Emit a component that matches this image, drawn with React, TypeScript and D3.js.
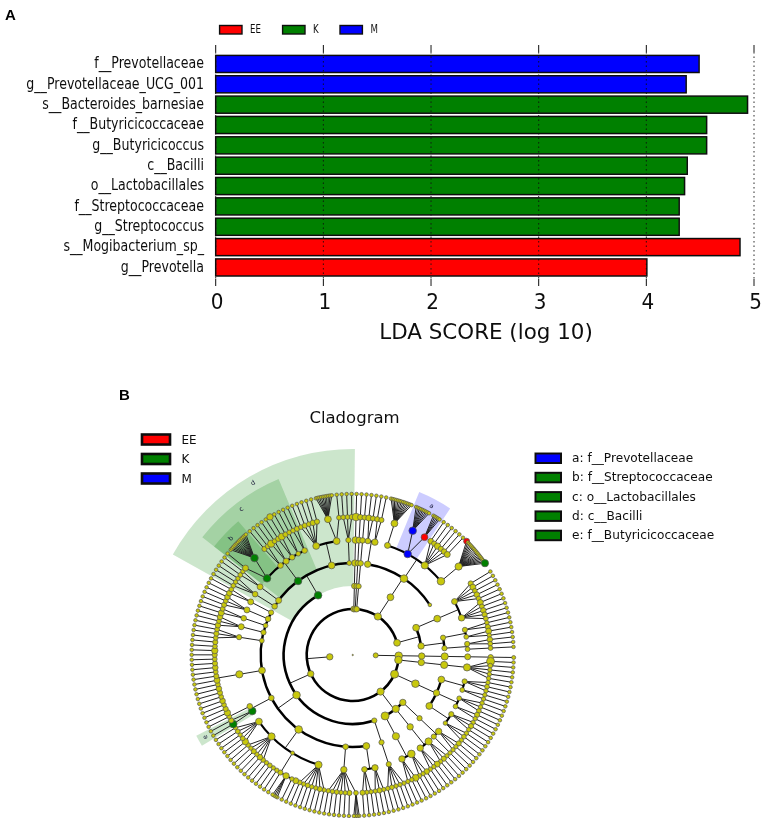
import React from "react";
import * as d3 from "d3";

// ---------- Panel A data ----------
const taxa = ["f__Prevotellaceae","g__Prevotellaceae_UCG_001","s__Bacteroides_barnesiae","f__Butyricicoccaceae","g__Butyricicoccus","c__Bacilli","o__Lactobacillales","f__Streptococcaceae","g__Streptococcus","s__Mogibacterium_sp_","g__Prevotella"];
const ldaScores = [4.49,4.37,4.94,4.56,4.56,4.38,4.355,4.305,4.305,4.87,4.005];
const ldaGroups = ["M","M","K","K","K","K","K","K","K","EE","EE"];
const groups = ["EE","K","M"];
const groupColors = ["#ff0000","#008000","#0000ff"];
const xTicks = [0,1,2,3,4,5];
const cladeKey = [["a: f__Prevotellaceae","M"],["b: f__Streptococcaceae","K"],["c: o__Lactobacillales","K"],["d: c__Bacilli","K"],["e: f__Butyricicoccaceae","K"]];

// ---------- Panel B data: clades, clockwise from the Archaea spoke ----------
type N = { r: number; kids?: N[]; c?: string; w?: string };
const n = (r: number, ...kids: N[]): N => ({ r, kids: kids.length ? kids : undefined });
const S = 1.8;
const g = (r: number, sp = S) => n(r, n(sp));
const fan = (r: number, k: number) => n(r, ...Array.from({ length: k }, () => n(S)));
const fam = (r: number, ...gs: (number | N)[]) => n(r, ...gs.map((x) => (typeof x === "number" ? g(x) : x)));
const mark = (x: N, c: string, w?: string): N => ({ ...x, c, w });

const archaea = n(2.5, n(3.8, n(3.2, n(3.6, n(3, n(2.6, n(2)))))));
const p94 = n(3.8, n(3.2, n(3.6, fam(3.6, 4, 2.4, 2.2, 2.2, 2.2))));
const p116 = n(4, n(3.8,
  n(3.4, fam(2.6, 2.2, 2.4, 2.2), fam(2.4, 2.2, 2.2)),
  n(3.2, fam(2.4, 2.2, 2.2, 2.4), fam(2.4, 2.6, 2.2)),
  n(3.4, fam(2.6, 2.2, 2.6, 2.2), fam(2.2, 2.2, 2.4, 2.2))));
const p140 = n(3.6,
  n(3.2, n(2.6, fam(3.2, 2.6, 2.2, 2.2), fam(2.6, 2.2))),
  n(3.6, n(3.2, fam(3.6, 2.2, 2.6, 2.2), fam(3.2, 3, 2.2, 2.2))),
  n(4, n(3.6, fam(3.8, 2.8, 2.2, 2.4), fam(3.2, 3.4, 2.2, 2.2))));
const p0 = n(3, n(2.8, n(3.2, fam(3.4, 3.8))));
const p2 = n(2.8, n(2.6, n(2.6, fam(3, 2.8))));
const p4 = n(2.8, n(2.6, n(2.8, fam(2.8, 2.6))));

const firmicutes = n(3.2,
  n(2.6, n(2.6, fam(2.6, 2.2, 2.2, 2.2, 2.4, 2.2))),
  n(3.8,
    n(3.4, fam(3.2, 2.2, 2.6, 2.2), fam(2.8, 2.2, 2.2, 2.6)),
    n(2.8, fam(3.2, fan(2.4, 4), 2.6, 2.2, 2.2, 2.4, 2.2, 2.2)),
    n(3.8,
      fam(3.6, 2.2, 2.6, 2.2, 2.2, 2.4, 2.2, 2.4),
      fam(2, 3, 2.2, fan(3.2, 4), 2.6, 2.2, 2.2, 2.4, 2.2),
      fam(3.6, 2.4, 2.8, 2.2, 2.6, 2.2, 2.4),
      fam(3.4, 3.2, 2.4, 2.2, 2.4, 2.2)),
    n(2.8,
      mark(fam(3.8, mark(g(3.8), "#008000"), 2.6), "#008000", "e"),
      fam(2.8, 2.4)),
    n(3.4, fam(3.6, 3.2, 2.6, 2.4, 2.8, 2.4, 2.6, 2.8, 2.4, 3, 2.6, 2.4, 2.8, 2.6, 2.4, 2.6, 3.2, 2.4, 2.6)),
    n(2.4, fam(2.6, 2.4, 2.6, 2.4)),
    n(2.6, fam(3, 2.8, 2.4, 2.8)),
    n(2.4, fam(2.8, 3, 2.4)),
    n(2.8, fam(3, 2.6, 2.4, 2.8)),
    n(2.6, fam(3, 2.8, 2.4))),
  mark(n(3.8,
    n(2.8, fam(2.8, 2.4, 2.2, 2.2)),
    n(3, fam(3, 2.4, 2.2)),
    mark(n(3.8,
      mark(fam(3.8, 3, mark(fan(3.8, 13), "#008000")), "#008000", "b"),
      fam(2.8, 2.6, 2.4),
      fam(3, 3.6, 2.4),
      fam(2.8, 2.6, n(3.4, n(3.2))),
      fam(2.4, 2.6, 2.4),
      fam(2.8, 2.4, 2.6)), "#008000", "c"),
    n(3.4,
      fam(3.4, 2.4, 2.6, 2.4, 2.8, 2.6),
      fam(3.4, fan(3.4, 10), 2.4)),
    n(2.4, fam(2.6, 2.4, 2.4, 2.6))), "#008000", "d"));

const p34 = n(3.6, n(3.4,
  n(3.2, fam(2.8, 3, 2.6), fam(3.2, 2.6, 2.6)),
  n(3.8,
    fam(3, fan(3.4, 13)),
    mark(fam(3.8, mark(fan(3.8, 9), "#0000ff"), mark(fan(3.4, 5), "#ff0000")), "#0000ff", "a"),
    fam(3.6, 2.8, 2.6, 3.2, 2.6, 2.8, 3),
    fam(3.8, n(3.6, mark(n(3), "#ff0000"), ...Array.from({ length: 15 }, () => n(S)), mark(n(3.6), "#008000")))),
  n(1.8)));
const p71 = n(3.4,
  n(3.4, n(3.4,
    fam(3, 2.6, 3, 2.4, 2.8, 2.4),
    fam(3.2, 3, 2.4, 2.8, 2.6, 2.4))),
  n(3.2, n(2.6, fam(2.6, 2.2, 2.6), fam(2.4, 3, 2.2)), n(2.6, fam(2.6, 2.8, 2.4), fam(2.4, 2.4))));

const bacteria = n(3.2, p94, p116, p140, firmicutes, p0, p2, p4, p34, p71);
const lifeTree = n(0.7, archaea, bacteria);

const startAngle = 90;
const sweep = 358;

const ring = d3.scaleLinear().domain([0, 7]).range([0, 161]);
const wedgeOuter: Record<number, number> = { 3: 206, 4: 191, 5: 176 };

function build() {
  const root = d3.hierarchy<N>(lifeTree, (d) => d.kids);
  d3.cluster<N>().size([1, 1]).separation((a, b) => (a.parent === b.parent && a.depth === 7 ? 0.36 : 1))(root);
  root.each((d: any) => { d.th = startAngle + d.x * sweep; });
  root.eachAfter((d: any) => {
    if (d.children) d.th = (d.children[0].th + d.children[d.children.length - 1].th) / 2;
  });
  return root.descendants() as any[];
}

const cx = 352.7, cy = 655;
const RAD = Math.PI / 180;

function Squeezed({ x, y, sx, size, anchor, children, family }: any) {
  return (
    <text transform={`translate(${x},${y}) scale(${sx},1)`} fontSize={size} textAnchor={anchor} fontFamily={family ?? "DejaVu Sans"} fill="#111" dominantBaseline="middle">
      {children}
    </text>
  );
}

export default function App() {
  const x = d3.scaleLinear().domain([0, 5]).range([215.7, 754]);
  const y = d3.scaleBand<string>().domain(taxa).range([55.4, 276]).paddingInner(0.16).paddingOuter(0);
  const color = d3.scaleOrdinal<string, string>().domain(groups).range(groupColors);
  const nodes = build();
  const lineW = [0, 1, 2.6, 2.6, 2.4, 2.1, 1.6];
  const P = (r: number, th: number) => d3.pointRadial(th * RAD, r) as [number, number];
  const arc = d3.arc();
  const wedges = nodes.filter((d) => d.data.w).sort((a, b) => a.depth - b.depth);
  const spans = wedges.map((d) => {
    const ls = d.leaves();
    const a0 = d3.min(ls, (l: any) => l.th) as number;
    const a1 = d3.max(ls, (l: any) => l.th) as number;
    return { d, a0: a0 - 1, a1: a1 + 1 };
  });
  const edges: React.ReactNode[] = [];
  nodes.forEach((d, i) => {
    if (!d.children || d.depth === 0) return;
    const cr = ring(d.depth + 1);
    const first = d.children[0].th, last = d.children[d.children.length - 1].th;
    const arcs = d.depth <= 4 || last - first > 14;
    if (arcs) {
      const [x1, y1] = P(ring(d.depth), d.th);
      const [x2, y2] = P(cr, d.th);
      edges.push(<line key={`r${i}`} x1={x1} y1={y1} x2={x2} y2={y2} stroke="#222" strokeWidth={1} />);
      if (last > first) {
        edges.push(<path key={`a${i}`} d={arc({ innerRadius: cr, outerRadius: cr, startAngle: first * RAD, endAngle: last * RAD } as any) as string} fill="none" stroke="#000" strokeWidth={lineW[d.depth + 1] ?? 1} />);
      }
    } else {
      d.children.forEach((c: any, j: number) => {
        const [x1, y1] = P(ring(d.depth), d.th);
        const [x2, y2] = P(cr, c.th);
        edges.push(<line key={`s${i}-${j}`} x1={x1} y1={y1} x2={x2} y2={y2} stroke="#222" strokeWidth={1} />);
      });
    }
  });
  return (
    <svg width={767} height={824} style={{ position: "absolute", left: 0, top: 0, display: "block" }}>
      <defs>
        <filter id="soft" x="0" y="0" width="100%" height="100%"><feGaussianBlur stdDeviation="0.35" /></filter>
      </defs>
      <rect width={767} height={824} fill="#fff" />
      <g filter="url(#soft)">
      <text x={5} y={20} fontFamily="Liberation Sans" fontWeight="bold" fontSize={15}>A</text>
      <text x={119} y={400} fontFamily="Liberation Sans" fontWeight="bold" fontSize={15}>B</text>

      {groups.map((k, i) => {
        const sx = [219.6, 282.6, 340][i];
        return (
          <g key={k}>
            <rect x={sx} y={25.5} width={22.4} height={8.5} fill={color(k)} stroke="#111" strokeWidth={1.4} />
            <Squeezed x={sx + 30.5} y={30} sx={0.72} size={12} anchor="start">{k}</Squeezed>
          </g>
        );
      })}

      {taxa.map((t, i) => (
        <g key={t}>
          <rect x={x(0)} y={y(t)} width={x(ldaScores[i]) - x(0)} height={y.bandwidth()} fill={color(ldaGroups[i])} stroke="#111" strokeWidth={1.5} />
          <Squeezed x={204} y={(y(t) as number) + y.bandwidth() / 2} sx={0.84} size={15} anchor="end">{t}</Squeezed>
        </g>
      ))}
      {xTicks.map((t) => (
        <g key={t}>
          <line x1={x(t)} x2={x(t)} y1={52} y2={279} stroke="#111" strokeWidth={0.9} strokeDasharray="1.5 3" />
          <line x1={x(t)} x2={x(t)} y1={45} y2={52} stroke="#111" strokeWidth={1} />
          <line x1={x(t)} x2={x(t)} y1={279} y2={286} stroke="#111" strokeWidth={1} />
          <Squeezed x={x(t) + 1.5} y={303} sx={0.93} size={21.5} anchor="middle">{t}</Squeezed>
        </g>
      ))}
      <Squeezed x={486} y={333} sx={1.02} size={21} anchor="middle">LDA SCORE (log 10)</Squeezed>

      <text x={354.5} y={423} textAnchor="middle" fontFamily="DejaVu Sans" fontSize={16.5} fill="#111">Cladogram</text>
      {groups.map((k, i) => (
        <g key={k}>
          <rect x={142} y={434.5 + i * 19.5} width={28} height={10} fill={color(k)} stroke="#111" strokeWidth={2.6} />
          <Squeezed x={181.5} y={440 + i * 19.5} sx={0.92} size={13} anchor="start">{k}</Squeezed>
        </g>
      ))}
      {cladeKey.map(([t, k], i) => (
        <g key={t}>
          <rect x={535.5} y={453.5 + i * 19.3} width={25.5} height={9.5} fill={color(k)} stroke="#111" strokeWidth={2} />
          <Squeezed x={572} y={458.5 + i * 19.3} sx={0.935} size={13} anchor="start">{t}</Squeezed>
        </g>
      ))}

      <g transform={`translate(${cx},${cy})`}>
        {spans.map(({ d, a0, a1 }: any) => {
          const inner = ring(d.depth);
          const outer = wedgeOuter[d.depth];
          const col = d.data.w === "a" ? "#0000ff" : "#008000";
          return <path key={d.data.w} d={arc({ innerRadius: inner, outerRadius: outer, startAngle: a0 * RAD, endAngle: a1 * RAD } as any) as string} fill={col} fillOpacity={0.2} />;
        })}
        {edges}
        {nodes.map((d, i) => {
          const [px, py] = P(ring(d.depth), d.th);
          return <circle key={i} cx={px} cy={py} r={d.data.r} fill={d.data.c ?? "#c8c80a"} stroke="#555" strokeWidth={0.7} />;
        })}
        {spans.map(({ d, a0, a1 }: any) => {
          const th = (a0 + a1) / 2;
          const [px, py] = P(wedgeOuter[d.depth] - 7.5, th);
          const rot = th % 360 > 180 ? (th % 360) - 360 : th % 360;
          return <text key={d.data.w} transform={`translate(${px},${py}) rotate(${rot})`} fontSize={6.5} textAnchor="middle" dominantBaseline="middle" fontFamily="DejaVu Sans" fill="#113">{d.data.w}</text>;
        })}
      </g>
      </g>
    </svg>
  );
}
